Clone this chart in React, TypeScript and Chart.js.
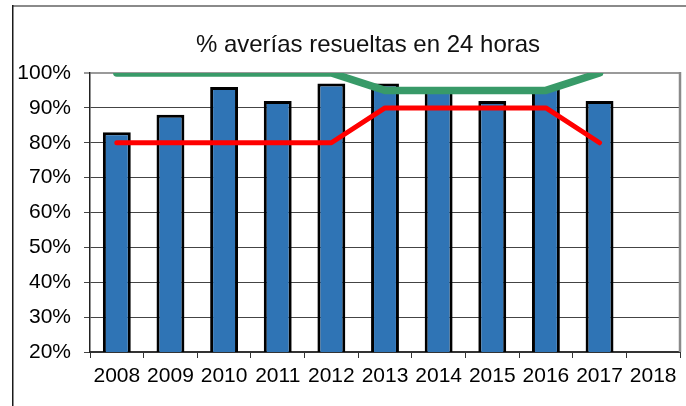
import React, { useEffect, useRef } from "react";
import { Chart, registerables } from "chart.js";

Chart.register(...registerables);

const TITLE = "% averías resueltas en 24 horas";
const years = ["2008", "2009", "2010", "2011", "2012", "2013", "2014", "2015", "2016", "2017", "2018"];
const resolved = [83, 88, 96, 92, 97, 97, 95, 92, 96, 92, null];
const targetHigh = [100, 100, 100, 100, 100, 95, 95, 95, 95, 100, null];
const targetLow = [80, 80, 80, 80, 80, 90, 90, 90, 90, 80, null];
const yMin = 20;
const yMax = 100;
const yStep = 10;

const FONT = "'Liberation Sans', Arial, sans-serif";

const framePlugin = {
  id: "frame",
  beforeDraw(chart: any) {
    const ctx = chart.ctx;
    ctx.save();
    ctx.fillStyle = "#ffffff";
    ctx.fillRect(0, 0, chart.width, chart.height);
    // outer frame: top gray, left dark
    ctx.strokeStyle = "#8a8a8a";
    ctx.lineWidth = 2;
    ctx.beginPath();
    ctx.moveTo(12, 6);
    ctx.lineTo(chart.width, 6);
    ctx.stroke();
    ctx.strokeStyle = "#1a1a1a";
    ctx.lineWidth = 1.5;
    ctx.beginPath();
    ctx.moveTo(12.75, 5);
    ctx.lineTo(12.75, chart.height);
    ctx.stroke();
    // title
    ctx.fillStyle = "#111111";
    ctx.font = `24px ${FONT}`;
    ctx.textAlign = "center";
    ctx.textBaseline = "alphabetic";
    ctx.fillText(TITLE, 368, 52);
    ctx.restore();
  },
  afterDraw(chart: any) {
    const ctx = chart.ctx;
    const a = chart.chartArea;
    ctx.save();
    ctx.strokeStyle = "#8a8a8a";
    ctx.lineWidth = 2.5;
    ctx.beginPath();
    ctx.moveTo(a.right, a.top - 1);
    ctx.lineTo(a.right, a.bottom);
    ctx.stroke();
    ctx.restore();
  },
};

export default function App() {
  const ref = useRef<HTMLCanvasElement | null>(null);

  useEffect(() => {
    if (!ref.current) return;
    const chart = new Chart(ref.current, {
      type: "bar",
      data: {
        labels: years,
        datasets: [
          {
            type: "line",
            label: "Objetivo alto",
            data: targetHigh,
            borderColor: "#389a68",
            borderWidth: 7.5,
            pointRadius: 0,
            borderCapStyle: "round",
            borderJoinStyle: "round",
            tension: 0,
            clip: 0,
            order: 1,
          } as any,
          {
            type: "line",
            label: "Objetivo bajo",
            data: targetLow,
            borderColor: "#ff0000",
            borderWidth: 5,
            pointRadius: 0,
            borderCapStyle: "round",
            borderJoinStyle: "round",
            tension: 0,
            order: 0,
          } as any,
          {
            type: "bar",
            label: "% resueltas",
            data: resolved,
            backgroundColor: "#2f74b5",
            borderColor: "#000000",
            borderWidth: 3,
            borderSkipped: false,
            categoryPercentage: 1,
            barPercentage: 0.52,
            order: 2,
          },
        ],
      },
      options: {
        responsive: false,
        animation: false,
        layout: { padding: { left: 12, right: 6, top: 73, bottom: 0 } },
        plugins: {
          legend: { display: false },
          title: { display: false },
          tooltip: { enabled: false },
        },
        scales: {
          x: {
            offset: true,
            grid: {
              offset: true,
              drawOnChartArea: false,
              drawTicks: true,
              tickLength: 6,
              color: "#333333",
              lineWidth: 1,
            },
            border: { color: "#333333", width: 2 },
            ticks: {
              color: "#000000",
              font: { family: FONT, size: 21 },
              padding: 6,
              maxRotation: 0,
              autoSkip: false,
            },
            afterFit(scale: any) {
              scale.height = 54;
            },
          },
          y: {
            min: yMin,
            max: yMax,
            grid: {
              color: (c: any) => (c.tick && c.tick.value === yMax ? "#9a9a9a" : "#444444"),
              lineWidth: (c: any) => (c.tick && c.tick.value === yMax ? 2 : 1),
              tickLength: 6,
            },
            border: { color: "#222222", width: 1.5 },
            ticks: {
              stepSize: yStep,
              color: "#000000",
              font: { family: FONT, size: 21 },
              padding: 13,
              callback: (v: any) => `${v}%`,
            },
            afterFit(scale: any) {
              scale.width = 78;
            },
          },
        },
      },
      plugins: [framePlugin],
    });
    return () => chart.destroy();
  }, []);

  return (
    <div style={{ position: "absolute", left: 0, top: 0, width: 686, height: 406 }}>
      <canvas ref={ref} width={686} height={406} />
    </div>
  );
}
